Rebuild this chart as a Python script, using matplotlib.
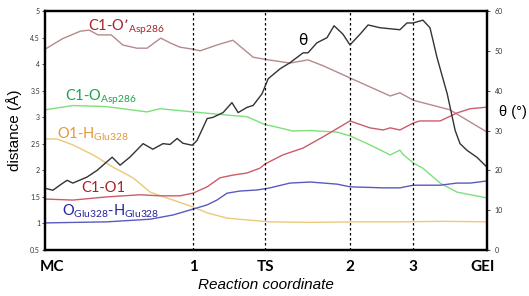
import matplotlib
matplotlib.use("Agg")
import matplotlib.pyplot as plt

# reaction coordinate runs 0 (MC) .. 100 (GEI)
stage_pos = [1.6, 33.5, 49.8, 69.0, 83.3, 98.9]
stage_labels = ["MC", "1", "TS", "2", "3", "GEI"]
dashed_pos = [33.5, 49.8, 69.0, 83.3]

# C1-O'(Asp286)
c1op_x = [0, 4, 8, 10, 12, 15, 17.6, 20.8, 23.1, 26.2, 28.3, 30.5, 33.5, 35.1, 38.9, 42.5,
          47.1, 49.8, 55.4, 59.5, 62.9, 69.0, 78.1, 80.3, 83.3, 91.6, 100]
c1op_y = [4.28, 4.48, 4.62, 4.64, 4.55, 4.55, 4.36, 4.30, 4.30, 4.49, 4.40, 4.32, 4.28, 4.25,
          4.36, 4.45, 4.13, 4.09, 4.02, 4.08, 3.97, 3.74, 3.40, 3.46, 3.32, 3.14, 2.72]

# C1-O(Asp286)
c1o_x = [0, 6.3, 14.0, 23.1, 26.0, 33.5, 41.2, 45.7, 49.8, 51.6, 56.1, 60.0, 66.1, 69.0,
         73.5, 78.1, 80.3, 81.0, 83.3, 85.5, 89.4, 93.2, 100]
c1o_y = [3.14, 3.22, 3.20, 3.10, 3.16, 3.10, 3.04, 3.01, 2.86, 2.83, 2.74, 2.75, 2.72, 2.65,
         2.48, 2.29, 2.38, 2.30, 2.14, 2.04, 1.76, 1.59, 1.48]

# O1-H(Glu328)
o1h_x = [0, 2.7, 6.3, 10.9, 15.4, 19.9, 23.8, 27.6, 33.5, 36.7, 41.2, 48.0, 50.9, 60, 70, 80, 90, 100]
o1h_y = [2.59, 2.59, 2.48, 2.29, 2.06, 1.86, 1.59, 1.48, 1.31, 1.20, 1.10, 1.05, 1.03, 1.02,
         1.03, 1.03, 1.04, 1.03]

# C1-O1
c1o1_x = [0, 6.3, 14.0, 21.5, 26.0, 30.5, 33.5, 36.7, 39.6, 42.5, 45.7, 48.6, 49.8, 53.8, 58.4,
          62.9, 69.0, 73.5, 76.5, 78.1, 80.3, 83.3, 84.8, 89.4, 93.2, 96.2, 100]
c1o1_y = [1.46, 1.44, 1.50, 1.54, 1.52, 1.52, 1.57, 1.69, 1.86, 1.91, 1.95, 2.04, 2.12, 2.29,
          2.42, 2.63, 2.93, 2.80, 2.76, 2.80, 2.76, 2.89, 2.93, 2.93, 3.08, 3.16, 3.19]

# O(Glu328)-H(Glu328)
oh_x = [0, 14.0, 23.8, 29.0, 33.5, 36.7, 38.9, 41.2, 44.1, 48.0, 50.9, 55.4, 60.0, 66.1, 69.0,
        76.5, 80.3, 83.3, 89.4, 93.2, 96.2, 100]
oh_y = [1.01, 1.03, 1.08, 1.16, 1.27, 1.35, 1.44, 1.57, 1.61, 1.63, 1.67, 1.76, 1.78, 1.74,
        1.69, 1.67, 1.67, 1.72, 1.72, 1.76, 1.76, 1.80]

# theta (degrees, right axis)
theta_x = [0, 1.8, 3.4, 5.0, 6.3, 9.5, 11.8, 15.2, 17.0, 19.2, 22.2, 24.4, 26.7, 28.3, 29.9,
           31.2, 33.3, 34.4, 36.7, 38.0, 40.3, 42.3, 43.7, 45.7, 47.1, 49.1, 50.5, 53.2, 55.4,
           58.4, 59.5, 61.5, 63.8, 65.4, 67.4, 69.0, 71.3, 73.1, 75.8, 80.3, 81.9, 83.3, 85.5,
           87.1, 88.7, 91.0, 92.8, 93.9, 95.5, 97.7, 100]
theta_y = [15.5, 15.0, 16.3, 17.5, 16.8, 18.3, 20.0, 23.3, 21.3, 23.3, 26.7, 25.3, 26.7, 26.5,
           28.0, 26.8, 26.3, 27.5, 33.0, 33.3, 34.5, 37.0, 34.5, 35.8, 36.3, 39.2, 43.0, 45.5,
           47.0, 49.5, 49.5, 52.0, 53.3, 56.3, 54.2, 51.5, 54.2, 56.5, 55.8, 55.3, 57.0, 57.0,
           57.7, 55.8, 48.3, 39.2, 30.0, 26.7, 25.0, 23.3, 20.8]

plt.rcParams['font.family'] = ['Lato', 'DejaVu Sans']
plt.rcParams['mathtext.default'] = 'regular'

fig = plt.figure(figsize=(5.29, 2.96), dpi=100)
ax = fig.add_axes([0.085, 0.1554, 0.8356, 0.8074])
ax2 = ax.twinx()

ax.plot(c1op_x, c1op_y, color='#b58a8c', lw=1.0)
ax.plot(c1o_x, c1o_y, color='#7ee07a', lw=1.0)
ax.plot(o1h_x, o1h_y, color='#ecc878', lw=1.0)
ax.plot(c1o1_x, c1o1_y, color='#cc5c68', lw=1.0)
ax.plot(oh_x, oh_y, color='#5a5ac0', lw=1.0)
ax2.plot(theta_x, theta_y, color='#333333', lw=1.0)

for xp in dashed_pos:
    ax.axvline(xp, color='black', lw=0.9, ls=(0, (2, 2)))

ax.set_xlim(0, 100)
ax.set_ylim(0.5, 5)
ax2.set_ylim(0, 60)
ax.set_yticks([0.5, 1, 1.5, 2, 2.5, 3, 3.5, 4, 4.5, 5])
ax.set_yticklabels(['0.5', '1', '1.5', '2', '2.5', '3', '3.5', '4', '4.5', '5'])
ax2.set_yticks([0, 10, 20, 30, 40, 50, 60])

ax.set_xticks(stage_pos)
ax.set_xticklabels(stage_labels, fontsize=11, fontweight='bold')
ax.tick_params(axis='x', length=0, pad=7)
ax.tick_params(axis='y', labelsize=5, length=2.5, width=0.6, pad=1, colors='#333333')
ax2.tick_params(axis='y', labelsize=5, length=2.5, width=0.6, pad=3, colors='#333333')

for a in (ax, ax2):
    for s in a.spines.values():
        s.set_linewidth(1.6)
        s.set_color('black')

ax.set_ylabel('distance (Å)', fontsize=11, family=['Liberation Sans', 'DejaVu Sans'], labelpad=6)
ax.set_xlabel('Reaction coordinate', fontsize=11, style='italic',
              family=['Liberation Sans', 'DejaVu Sans'], labelpad=3)
fig.text(0.996, 0.621, 'θ (°)', fontsize=10.5, family=['Liberation Sans', 'DejaVu Sans'],
         ha='right', va='center')

lab = dict(fontsize=10.5)
ax.text(9.7, 4.64, 'C1-O’$_{Asp286}$', color='#a5232b', **lab)
ax.text(4.5, 3.32, 'C1-O$_{Asp286}$', color='#1fa050', **lab)
ax.text(2.7, 2.59, 'O1-H$_{Glu328}$', color='#e09a3a', **lab)
ax.text(8.1, 1.59, 'C1-O1', color='#a5232b', **lab)
ax.text(3.8, 1.14, 'O$_{Glu328}$-H$_{Glu328}$', color='#2424a0', **lab)
ax.text(58.4, 4.45, 'θ', color='black', fontsize=11, family=['DejaVu Sans'], ha='center', va='center')

fig.savefig('out.png', dpi=100)
